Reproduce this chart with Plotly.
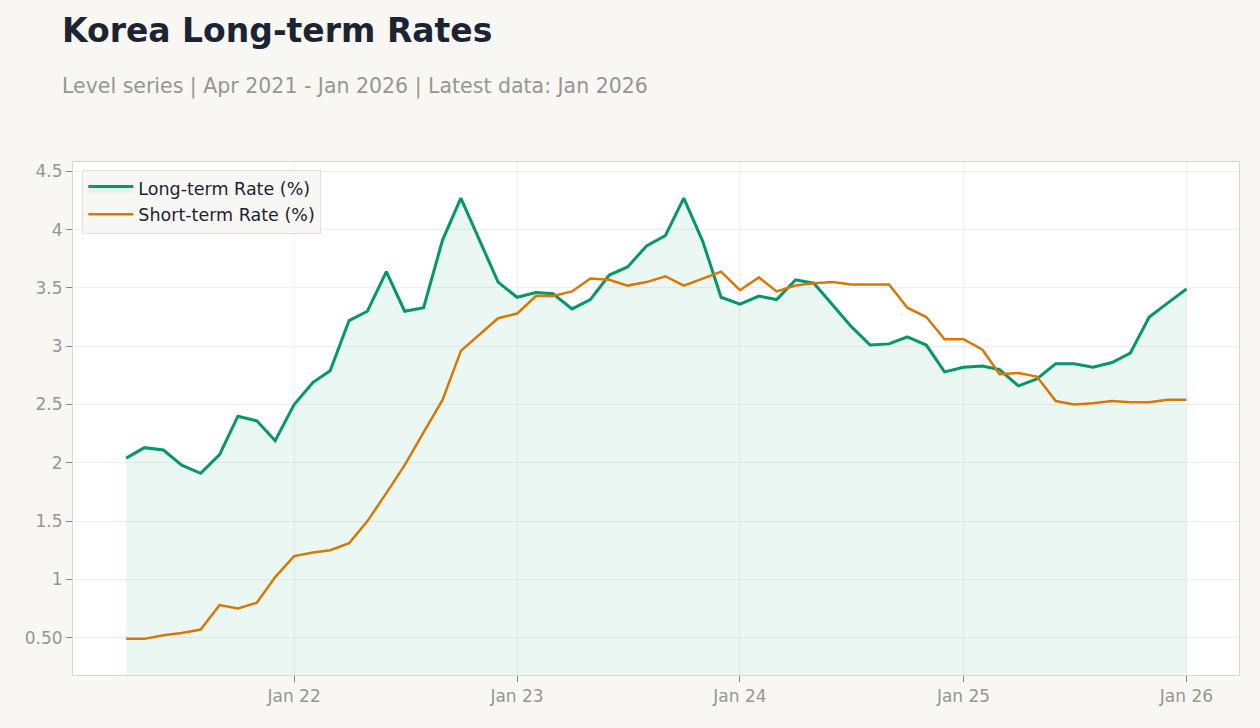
import pandas as pd
import plotly.graph_objects as go

# monthly observations, Apr 2021 - Jan 2026
dates = pd.date_range("2021-04-01", "2026-01-01", freq="MS")

long_rate = [
    2.04, 2.13, 2.11, 1.98, 1.91, 2.07, 2.40, 2.36, 2.19,              # 2021
    2.50, 2.69, 2.79, 3.22, 3.30, 3.64, 3.30, 3.33, 3.91, 4.27, 3.91, 3.55,  # 2022
    3.42, 3.46, 3.45, 3.32, 3.40, 3.61, 3.68, 3.86, 3.95, 4.27, 3.90, 3.42,  # 2023
    3.36, 3.43, 3.40, 3.57, 3.54, 3.35, 3.17, 3.01, 3.02, 3.08, 3.01, 2.78,  # 2024
    2.82, 2.83, 2.80, 2.66, 2.72, 2.85, 2.85, 2.82, 2.86, 2.94, 3.25, 3.37,  # 2025
    3.49,                                                               # 2026
]
short_rate = [
    0.49, 0.49, 0.52, 0.54, 0.57, 0.78, 0.75, 0.80, 1.02,
    1.20, 1.23, 1.25, 1.31, 1.50, 1.74, 1.98, 2.26, 2.54, 2.96, 3.10, 3.24,
    3.28, 3.43, 3.43, 3.47, 3.58, 3.57, 3.52, 3.55, 3.60, 3.52, 3.58, 3.64,
    3.48, 3.59, 3.47, 3.52, 3.54, 3.55, 3.53, 3.53, 3.53, 3.33, 3.25, 3.06,
    3.06, 2.97, 2.76, 2.77, 2.74, 2.53, 2.50, 2.51, 2.53, 2.52, 2.52, 2.54,
    2.54,
]

y_ticks = [0.5, 1, 1.5, 2, 2.5, 3, 3.5, 4, 4.5]
y_labels = ["0.50", "1", "1.5", "2", "2.5", "3", "3.5", "4", "4.5"]

GREEN = "#059669"
ORANGE = "#d97706"
GREY = "#999590"
INK = "#1b2433"

fig = go.Figure()
fig.add_trace(go.Scatter(x=dates, y=long_rate, mode="lines", name="Long-term Rate (%)",
                         line=dict(color=GREEN, width=3),
                         fill="tozeroy", fillcolor="rgba(5,150,105,0.08)"))
fig.add_trace(go.Scatter(x=dates, y=short_rate, mode="lines", name="Short-term Rate (%)",
                         line=dict(color=ORANGE, width=2.5)))

fig.update_layout(
    width=1260, height=728,
    margin=dict(l=73, r=21, t=162, b=53),
    paper_bgcolor="#f8f7f4", plot_bgcolor="#ffffff",
    font=dict(family="DejaVu Sans", size=17, color=GREY),
    showlegend=True,
    legend=dict(x=0.008, y=0.985, xanchor="left", yanchor="top",
                bgcolor="#f8f7f4", bordercolor="#e4e0d8", borderwidth=1,
                itemwidth=45, tracegroupgap=0,
                font=dict(size=17.5, color=INK)),
    annotations=[
        dict(text="<b>Korea Long-term Rates</b>", xref="paper", yref="paper",
             x=-0.0111, y=1.256, xanchor="left", yanchor="middle", showarrow=False,
             font=dict(size=33, color=INK)),
        dict(text="Level series | Apr 2021 - Jan 2026 | Latest data: Jan 2026",
             xref="paper", yref="paper", x=-0.0111, y=1.148, xanchor="left",
             yanchor="middle", showarrow=False, font=dict(size=20.5, color=GREY)),
    ],
)
fig.update_xaxes(range=["2021-01-04", "2026-03-28"], tick0="2022-01-01", dtick="M12",
                 tickformat="%b %y", showgrid=True, gridcolor="#efefef",
                 ticks="outside", ticklen=6, tickcolor="#888",
                 showline=True, linecolor="#ddd6cc", mirror=True, zeroline=False)
fig.update_yaxes(range=[0.18, 4.58], tickvals=y_ticks, ticktext=y_labels,
                 showgrid=True, gridcolor="#efefef",
                 ticks="outside", ticklen=6, tickcolor="#888",
                 showline=True, linecolor="#ddd6cc", mirror=True, zeroline=False)

# drop the default page margin so the figure sits flush in the window
fig.write_html("out.html", config={"displayModeBar": False},
               post_script="document.body.style.margin='0';")
